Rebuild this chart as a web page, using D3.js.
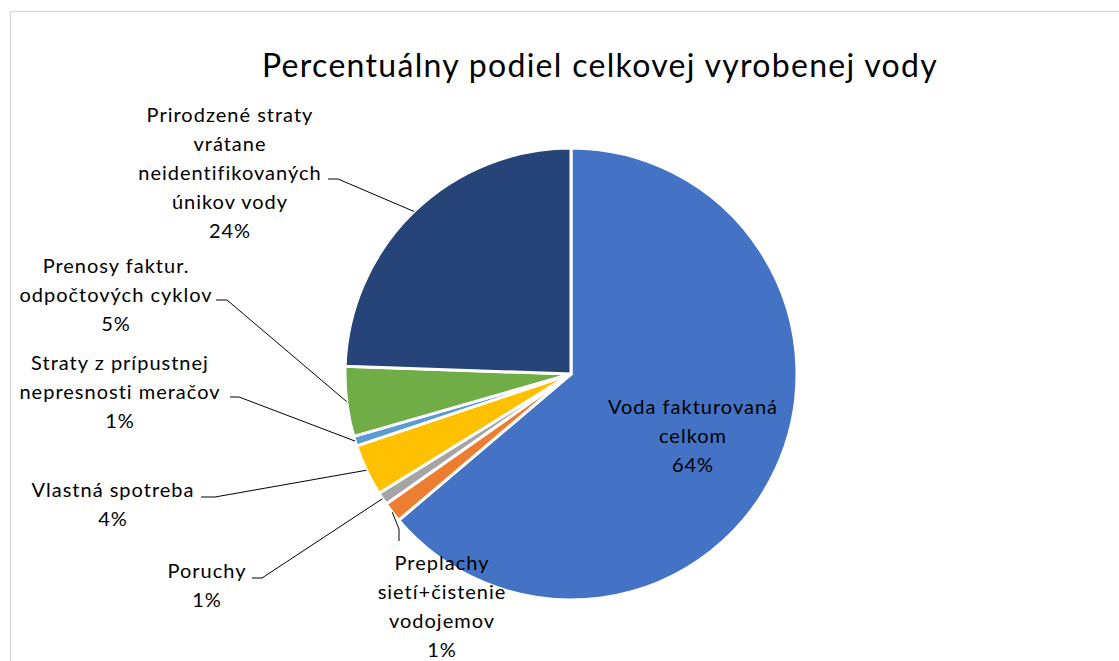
<!DOCTYPE html>
<html>
<head>
<meta charset="utf-8">
<script src="https://cdn.jsdelivr.net/npm/d3@7"></script>
<style>
  body { margin: 0; background: #fff; }
  svg text { font-family: Lato, "Open Sans", sans-serif; fill: #000; }
</style>
</head>
<body>
<svg id="chart" width="1119" height="661"></svg>
<script>
// data
const categories = [
  "Voda fakturovaná celkom",
  "Preplachy sietí+čistenie vodojemov",
  "Poruchy",
  "Vlastná spotreba",
  "Straty z prípustnej nepresnosti meračov",
  "Prenosy faktur. odpočtových cyklov",
  "Prirodzené straty vrátane neidentifikovaných únikov vody"
];
const values = [63.8, 1.45, 0.9, 3.7, 0.7, 5.0, 24.45];
const labelLines = [
  ["Voda fakturovaná", "celkom"],
  ["Preplachy", "sietí+čistenie", "vodojemov"],
  ["Poruchy"],
  ["Vlastná spotreba"],
  ["Straty z prípustnej", "nepresnosti meračov"],
  ["Prenosy faktur.", "odpočtových cyklov"],
  ["Prirodzené straty", "vrátane", "neidentifikovaných", "únikov vody"]
];
const colors = ["#4472C4", "#ED7D31", "#A5A5A5", "#FFC000", "#5B9BD5", "#70AD47", "#264478"];

// label layout: text centre x, first baseline y, leader stub (x1,y1)->(x2,y2) then to slice
const labelLayout = [
  { x: 693, y: 414, leader: null },
  { x: 442, y: 570, leader: [399, 541, 399, 529] },
  { x: 207, y: 578, leader: [252, 578, 262, 578] },
  { x: 113, y: 497, leader: [201, 497, 215, 497] },
  { x: 120, y: 370, leader: [230, 397, 239, 397] },
  { x: 116, y: 273, leader: [216, 300, 227, 300] },
  { x: 230, y: 122, leader: [328, 179, 338, 179] }
];

const svg = d3.select("#chart");
const cx = 571, cy = 374, radius = 226;
const lineH = 29;

// chart area border
svg.append("rect")
  .attr("x", 10.5).attr("y", 11.5)
  .attr("width", 1200).attr("height", 700)
  .attr("fill", "none").attr("stroke", "#d9d9d9").attr("stroke-width", 1.5);

svg.append("text")
  .attr("x", 600).attr("y", 77)
  .attr("text-anchor", "middle")
  .style("font-size", "32px")
  .style("letter-spacing", "1.3px")
  .text("Percentuálny podiel celkovej vyrobenej vody");

const pie = d3.pie().sort(null).value(d => d)(values);
const arc = d3.arc().innerRadius(0).outerRadius(radius);

const g = svg.append("g").attr("transform", "translate(" + cx + "," + cy + ")");
g.selectAll("path")
  .data(pie)
  .enter()
  .append("path")
  .attr("d", arc)
  .attr("fill", (d, i) => colors[i])
  .attr("stroke", "#fff")
  .attr("stroke-width", 3)
  .attr("stroke-linejoin", "round");

// leader lines
pie.forEach((d, i) => {
  const L = labelLayout[i].leader;
  if (!L) return;
  const a = (d.startAngle + d.endAngle) / 2;
  const ex = cx + radius * Math.sin(a);
  const ey = cy - radius * Math.cos(a);
  svg.append("polyline")
    .attr("points", [[L[0], L[1]], [L[2], L[3]], [ex, ey]].map(p => p.join(",")).join(" "))
    .attr("fill", "none")
    .attr("stroke", "#000")
    .attr("stroke-width", 1);
});

// labels
pie.forEach((d, i) => {
  const lay = labelLayout[i];
  const lines = labelLines[i].concat([Math.round(values[i]) + "%"]);
  const t = svg.append("text")
    .attr("text-anchor", "middle")
    .style("font-size", "20px")
    .style("letter-spacing", "1px");
  lines.forEach((s, k) => {
    t.append("tspan").attr("x", lay.x).attr("y", lay.y + k * lineH).text(s);
  });
});
</script>
</body>
</html>
